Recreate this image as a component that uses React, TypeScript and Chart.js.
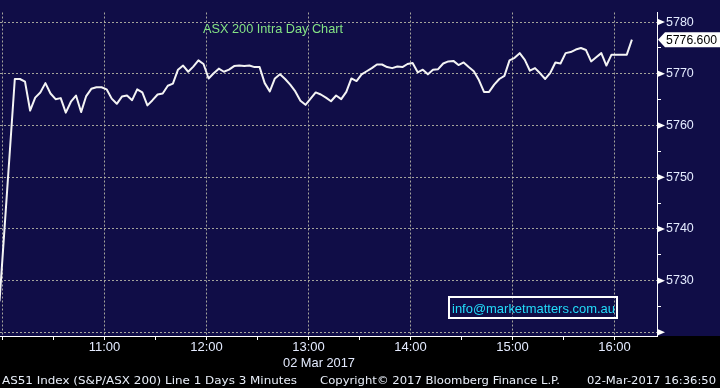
import React, { useEffect, useRef } from 'react';
import { Chart, registerables } from 'chart.js';

Chart.register(...registerables);

// Minutes after 10:00 of the first 3-minute sample, and spacing between samples
const START_MINUTE = -1.76;
const STEP_MINUTES = 3;

// AS51 3-minute closes (null = no print)
const prices: (number | null)[] = [
  5726.0, null, null, 5769.0, 5769.0, 5768.5, 5762.9, 5765.4, 5766.4, 5768.2,
  5766.2, 5765.1, 5765.3, 5762.5, 5764.6, 5765.8, 5762.6, 5765.7, 5767.1, 5767.4,
  5767.4, 5767.0, 5765.2, 5764.2, 5765.6, 5765.8, 5764.9, 5767.0, 5766.4, 5763.9,
  5764.9, 5766.0, 5766.2, 5767.7, 5768.1, 5770.8, 5771.6, 5770.4, 5771.4, 5772.6,
  5771.9, 5769.1, 5770.1, 5771.0, 5770.4, 5770.8, 5771.5, 5771.6, 5771.5, 5771.6,
  5771.3, 5771.3, 5768.2, 5766.6, 5769.1, 5769.9, 5769.0, 5767.9, 5766.6, 5764.8,
  5764.0, 5765.2, 5766.4, 5766.0, 5765.4, 5764.7, 5765.8, 5765.1, 5766.5, 5769.1,
  5768.6, 5769.9, 5770.5, 5771.1, 5771.8, 5771.8, 5771.3, 5771.1, 5771.4, 5771.3,
  5771.9, 5772.1, 5770.3, 5770.8, 5769.9, 5770.8, 5770.9, 5772.0, 5772.4, 5772.5,
  5771.7, 5772.2, 5771.3, 5770.5, 5768.8, 5766.5, 5766.5, 5767.9, 5769.0, 5769.6,
  5772.6, 5773.1, 5774.0, 5772.7, 5770.6, 5771.1, 5770.1, 5769.0, 5770.2, 5772.2,
  5772.0, 5774.0, 5774.2, 5774.7, 5775.0, 5774.6, 5772.4, 5773.2, 5774.0, 5771.6,
  5773.7, 5773.7, 5773.7, 5773.7, 5776.6,
];

const hourLabels = ['10:00', '11:00', '12:00', '13:00', '14:00', '15:00', '16:00'];
const labeledPriceTicks = [5720, 5730, 5740, 5750, 5760, 5770, 5780];
const hiddenPriceLabels = [5720];

const TITLE = 'ASX 200 Intra Day Chart';
const EMAIL = 'info@marketmatters.com.au';
const DATE_LABEL = '02 Mar 2017';
const FOOTER_LEFT = 'AS51 Index (S&P/ASX 200) Line 1 Days 3 Minutes';
const FOOTER_MID = 'Copyright\u00a9 2017 Bloomberg Finance L.P.';
const FOOTER_RIGHT = '02-Mar-2017 16:36:50';

const NAVY = '#100d47';
const GRID = 'rgba(190,190,170,0.85)';
const TICK_TEXT = '#e4ebff';
const SANS = '"Liberation Sans", Arial, sans-serif';
const BBG = '"DejaVu Sans", sans-serif';

function fitText(
  ctx: CanvasRenderingContext2D,
  text: string,
  x: number,
  y: number,
  width: number,
  font: string,
  color: string,
  baseline: CanvasTextBaseline = 'alphabetic'
) {
  ctx.save();
  ctx.font = font;
  ctx.fillStyle = color;
  ctx.textAlign = 'left';
  ctx.textBaseline = baseline;
  const w = ctx.measureText(text).width || 1;
  ctx.translate(x, y);
  ctx.scale(width / w, 1);
  ctx.fillText(text, 0, 0);
  ctx.restore();
}

const bloombergPlugin = {
  id: 'bloombergDecor',
  beforeDraw(chart: any) {
    const { ctx, width, height, chartArea } = chart;
    ctx.save();
    ctx.fillStyle = '#000000';
    ctx.fillRect(0, 0, width, height);
    ctx.fillStyle = NAVY;
    ctx.fillRect(0, 0, width, chartArea.bottom);
    ctx.restore();
  },
  afterDraw(chart: any) {
    const { ctx, chartArea, scales } = chart;
    const yScale = scales.y;
    const right = chartArea.right;

    // arrow markers on labelled price ticks
    ctx.save();
    ctx.fillStyle = '#ffffff';
    labeledPriceTicks.forEach((v) => {
      const y = yScale.getPixelForValue(v);
      ctx.beginPath();
      ctx.moveTo(right, y - 3.5);
      ctx.lineTo(right + 8, y);
      ctx.lineTo(right, y + 3.5);
      ctx.closePath();
      ctx.fill();
    });
    ctx.restore();

    // last value tag
    const last = prices[prices.length - 1] as number;
    const ly = yScale.getPixelForValue(last);
    ctx.save();
    ctx.fillStyle = '#ffffff';
    ctx.beginPath();
    ctx.moveTo(right + 1, ly);
    ctx.lineTo(right + 8, ly - 7.5);
    ctx.lineTo(720, ly - 7.5);
    ctx.lineTo(720, ly + 7.5);
    ctx.lineTo(right + 8, ly + 7.5);
    ctx.closePath();
    ctx.fill();
    ctx.restore();
    fitText(ctx, last.toFixed(3), right + 9, ly + 0.5, 51, `12.5px ${SANS}`, '#000000', 'middle');

    // title inside plot
    fitText(ctx, TITLE, 203, 32.5, 140, `13px ${SANS}`, '#84e384');

    // e-mail box
    ctx.save();
    ctx.strokeStyle = '#ffffff';
    ctx.lineWidth = 2;
    ctx.strokeRect(449, 297, 168, 21);
    ctx.restore();
    fitText(ctx, EMAIL, 452, 313, 163, `13px ${SANS}`, '#22dcfa');

    // date under the axis
    fitText(ctx, DATE_LABEL, 283, 366.5, 72, `13px ${SANS}`, TICK_TEXT);

    // footer
    fitText(ctx, FOOTER_LEFT, 2, 384, 295, `11px ${BBG}`, '#e8eef8');
    fitText(ctx, FOOTER_MID, 320, 384, 240, `11px ${BBG}`, '#e8eef8');
    fitText(ctx, FOOTER_RIGHT, 587, 384, 129, `11px ${BBG}`, '#e8eef8');
  },
};

export default function App() {
  const canvasRef = useRef<HTMLCanvasElement | null>(null);

  useEffect(() => {
    if (!canvasRef.current) return;
    const points = prices.map((v, i) => ({ x: START_MINUTE + i * STEP_MINUTES, y: v }));

    const chart = new Chart(canvasRef.current, {
      type: 'line',
      data: {
        datasets: [
          {
            label: 'AS51 Index',
            data: points as any,
            borderColor: '#f4f4f4',
            borderWidth: 2,
            pointRadius: 0,
            tension: 0,
            spanGaps: true,
            borderJoinStyle: 'round',
          },
        ],
      },
      options: {
        responsive: false,
        animation: false,
        devicePixelRatio: 1,
        layout: { padding: 0 },
        plugins: {
          legend: { display: false },
          tooltip: { enabled: false },
          title: { display: false },
        },
        scales: {
          x: {
            type: 'linear',
            position: 'bottom',
            min: -1.47,
            max: 385,
            afterFit: (scale: any) => {
              scale.height = 52;
            },
            ticks: {
              stepSize: 30,
              includeBounds: false,
              autoSkip: false,
              maxRotation: 0,
              padding: 0,
              color: TICK_TEXT,
              font: { family: SANS, size: 13 },
              callback: (value: any) => {
                const v = Number(value);
                if (v > 0 && v % 60 === 0) return hourLabels[v / 60];
                return '';
              },
            },
            grid: {
              color: (ctx: any) => (ctx.tick && ctx.tick.value % 60 === 0 ? GRID : 'rgba(0,0,0,0)'),
              tickColor: '#ffffff',
              tickLength: 4,
              tickBorderDash: [],
              lineWidth: 1,
            },
            border: { display: true, color: '#ffffff', width: 1, dash: [2, 2] },
          },
          y: {
            type: 'linear',
            position: 'right',
            min: 5719.29,
            max: 5781.86,
            afterFit: (scale: any) => {
              scale.width = 63;
            },
            ticks: {
              stepSize: 5,
              includeBounds: false,
              autoSkip: false,
              padding: 5,
              color: TICK_TEXT,
              font: { family: SANS, size: 12.5 },
              callback: (value: any) => {
                const v = Number(value);
                if (v % 10 !== 0 || hiddenPriceLabels.includes(v)) return '';
                return String(v);
              },
            },
            grid: {
              color: (ctx: any) => (ctx.tick && ctx.tick.value % 10 === 0 ? GRID : 'rgba(0,0,0,0)'),
              tickColor: '#ffffff',
              tickLength: 4,
              tickBorderDash: [],
              lineWidth: 1,
            },
            border: { display: true, color: '#ffffff', width: 1, dash: [2, 2] },
          },
        },
      },
      plugins: [bloombergPlugin],
    });

    return () => chart.destroy();
  }, []);

  return (
    <div style={{ position: 'fixed', left: 0, top: 0, width: 720, height: 388, background: '#000' }}>
      <canvas ref={canvasRef} width={720} height={388} style={{ display: 'block' }} />
    </div>
  );
}
